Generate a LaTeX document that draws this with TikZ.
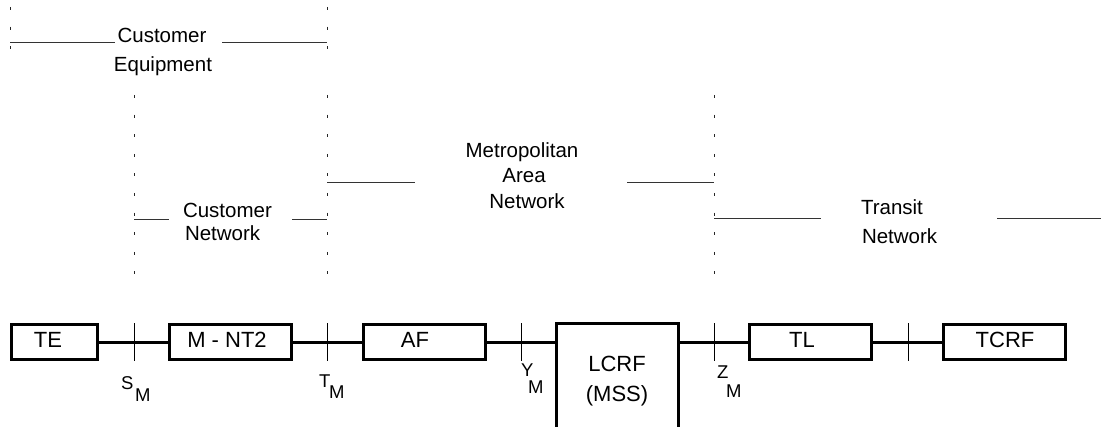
\documentclass[tikz,border=0pt]{standalone}
\usepackage{fontspec}
\setmainfont{Liberation Sans}

\tikzset{
    block/.style={draw, line width=1.5pt, minimum width=61pt, minimum height=17.5pt},
    blocktext/.style={font=\fontsize{11}{15}\selectfont},
    zonetext/.style={font=\fontsize{10.25}{12}\selectfont, anchor=base},
    zoneline/.style={line width=0.5pt, black!80},
    divider/.style={line width=0.5pt, black!85, dash pattern=on 1.5pt off 8.3pt},
    reftext/.style={font=\fontsize{9.25}{11}\selectfont, anchor=base west},
    link/.style={line width=1.5pt},
    refmark/.style={line width=0.5pt}
}

\begin{document}
\begin{tikzpicture}[x=0.5pt, y=-0.5pt, every node/.append style={inner sep=0pt, outer sep=0pt}]
        \useasboundingbox (0,0) rectangle (1101,427);
        \clip (0,0) rectangle (1101,427);

        \node [block, minimum width=43pt] (TE) at (54.5,342) {};
        \node [block] (MNT) at (230.5,342) {};
        \node [block] (AF) at (424,342) {};
        \node [block, minimum height=58pt, blocktext, align=center] (LCRF) at (617,381) {LCRF\\(MSS)};
        \node [block] (TL) at (810.5,342) {};
        \node [block] (TCRF) at (1004.5,342) {};

        \node [blocktext] (te) at (48,340) {TE};
        \node [blocktext] (mnt) at (227,340) {M - NT2};
        \node [blocktext] (af) at (415,340) {AF};
        \node [blocktext] (tl) at (802,340) {TL};
        \node [blocktext] (tcrf) at (1005,340) {TCRF};

        \draw [link] (TE) -- (MNT);
        \draw [link] (MNT) -- (AF);
        \draw [link] (AF) -- (AF -| LCRF.west);
        \draw [link] (TL -| LCRF.east) -- (TL);
        \draw [link] (TL) -- (TCRF);

        % reference points on the line
        \foreach \x in {134,327,521,714,908}
            \draw [refmark] (\x,323) -- (\x,361);

        \node [reftext] (S) at (121,389) {S};
        \node [reftext] (Sm) at (135,401) {M};
        \node [reftext] (T) at (319,387) {T};
        \node [reftext] (Tm) at (329,398) {M};
        \node [reftext] (Y) at (521,376) {Y};
        \node [reftext] (Ym) at (528,393) {M};
        \node [reftext] (Z) at (717,378) {Z};
        \node [reftext] (Zm) at (726,397) {M};

        % domain borders
        \draw [divider] (10,7) -- (10,52);
        \draw [divider] (327,7) -- (327,52);
        \foreach \x in {134,327,714}
            \draw [divider] (\x,95) -- (\x,277);

        \node [zonetext] (ce1) at (162,43) {Customer};
        \node [zonetext] (ce2) at (163,72) {Equipment};
        \draw [zoneline] (10,43) -- (115,43);
        \draw [zoneline] (222,43) -- (327,43);

        \node [zonetext, anchor=base west] (cn1) at (183,218) {Customer};
        \node [zonetext, anchor=base west] (cn2) at (185,240) {Network};
        \draw [zoneline] (134,219) -- (169,219);
        \draw [zoneline] (292,219) -- (327,219);

        \node [zonetext] (man1) at (522,158) {Metropolitan};
        \node [zonetext] (man2) at (524,183) {Area};
        \node [zonetext] (man3) at (527,208) {Network};
        \draw [zoneline] (327,183) -- (415,183);
        \draw [zoneline] (627,183) -- (714,183);

        \node [zonetext, anchor=base west] (tn1) at (861,214) {Transit};
        \node [zonetext, anchor=base west] (tn2) at (862,243) {Network};
        \draw [zoneline] (714,218) -- (821,218);
        \draw [zoneline] (997,218) -- (1101,218);
\end{tikzpicture}
\end{document}
